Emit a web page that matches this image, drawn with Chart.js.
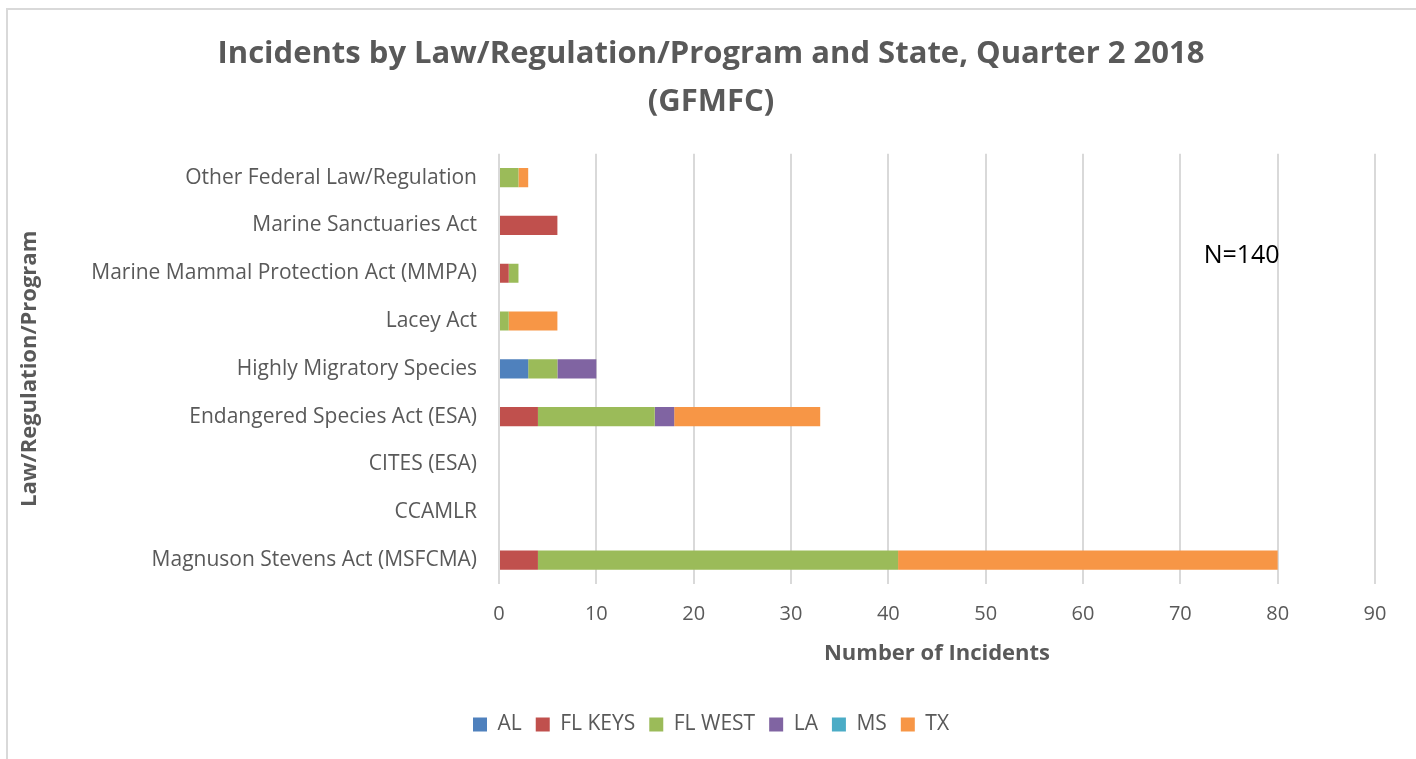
<!DOCTYPE html>
<html>
<head>
<meta charset="utf-8">
<script src="https://cdn.jsdelivr.net/npm/chart.js@4.4.0/dist/chart.umd.min.js"></script>
<style>
  html, body { margin: 0; padding: 0; background: #fff; }
  #wrap { position: relative; width: 1416px; height: 759px; }
  #frame { position: absolute; left: 6px; top: 8px; width: 1420px; height: 760px;
           border-left: 2px solid #d9d9d9; border-top: 2px solid #d9d9d9; }
  canvas { position: absolute; left: 0; top: 0; }
</style>
</head>
<body>
<div id="wrap">
  <div id="frame"></div>
  <canvas id="chart" width="1416" height="759"></canvas>
</div>
<script>
// categories, top to bottom as shown
const categories = [
    'Other Federal Law/Regulation',
    'Marine Sanctuaries Act',
    'Marine Mammal Protection Act (MMPA)',
    'Lacey Act',
    'Highly Migratory Species',
    'Endangered Species Act (ESA)',
    'CITES (ESA)',
    'CCAMLR',
    'Magnuson Stevens Act (MSFCMA)'
];

// incidents per state, same order as categories
const alData      = [0, 0, 0, 0, 3, 0, 0, 0, 0];
const flKeysData  = [0, 6, 1, 0, 0, 4, 0, 0, 4];
const flWestData  = [2, 0, 1, 1, 3, 12, 0, 0, 37];
const laData      = [0, 0, 0, 0, 4, 2, 0, 0, 0];
const msData      = [0, 0, 0, 0, 0, 0, 0, 0, 0];
const txData      = [1, 0, 0, 5, 0, 15, 0, 0, 39];

const xTicks = [0, 10, 20, 30, 40, 50, 60, 70, 80, 90];
const totalLabel = 'N=140';

const FONT = "'Open Sans', 'Liberation Sans', sans-serif";
const GREY = '#595959';
const PAD_LEFT = 47;

function series(label, data, color) {
    return {
        label: label,
        data: data,
        backgroundColor: color,
        borderWidth: 0,
        barPercentage: 0.4,
        categoryPercentage: 1.0
    };
}

// N=140 annotation
const noteLabel = {
    id: 'noteLabel',
    afterDraw(chart) {
        const c = chart.ctx;
        const area = chart.chartArea;
        c.save();
        c.font = '25px ' + FONT;
        c.fillStyle = '#000';
        c.textAlign = 'right';
        c.textBaseline = 'middle';
        c.fillText(totalLabel, chart.scales.x.getPixelForValue(80) + 2, area.top + 102);
        c.restore();
    }
};

const ctx = document.getElementById('chart').getContext('2d');
new Chart(ctx, {
    type: 'bar',
    data: {
        labels: categories,
        datasets: [
            series('AL', alData, '#4f81bd'),
            series('FL KEYS', flKeysData, '#c0504d'),
            series('FL WEST', flWestData, '#9bbb59'),
            series('LA', laData, '#8064a2'),
            series('MS', msData, '#4bacc6'),
            series('TX', txData, '#f79646')
        ]
    },
    options: {
        indexAxis: 'y',
        responsive: false,
        animation: false,
        layout: { padding: { left: PAD_LEFT, right: 41, top: 30, bottom: 14 } },
        plugins: {
            title: {
                display: true,
                text: ['Incidents by Law/Regulation/Program and State, Quarter 2 2018', '(GFMFC)'],
                color: GREY,
                font: { family: FONT, size: 31, weight: 'bold', lineHeight: 1.56 },
                padding: { top: 0, bottom: 27 }
            },
            legend: {
                position: 'bottom',
                labels: {
                    boxWidth: 14,
                    boxHeight: 14,
                    padding: 14,
                    color: GREY,
                    font: { family: FONT, size: 21 }
                }
            },
            tooltip: { enabled: false }
        },
        scales: {
            x: {
                stacked: true,
                min: 0,
                max: 90,
                ticks: {
                    stepSize: 10,
                    color: GREY,
                    padding: 18,
                    font: { family: FONT, size: 20 }
                },
                grid: { color: '#d9d9d9', lineWidth: 2, drawTicks: false },
                border: { display: false },
                title: {
                    display: true,
                    text: 'Number of Incidents',
                    color: GREY,
                    font: { family: FONT, size: 22, weight: 'bold' },
                    padding: { top: 10, bottom: 33 }
                },
                afterFit(scale) { scale.height = 116; }
            },
            y: {
                stacked: true,
                grid: { display: false, drawTicks: false },
                border: { display: false },
                ticks: {
                    color: GREY,
                    padding: 22,
                    font: { family: FONT, size: 21 }
                },
                title: {
                    display: true,
                    text: 'Law/Regulation/Program',
                    color: GREY,
                    font: { family: FONT, size: 22, weight: 'bold' },
                    padding: { top: -30, bottom: 0 }
                },
                afterFit(scale) { scale.width = 499 - PAD_LEFT; }
            }
        }
    },
    plugins: [noteLabel]
});
</script>
</body>
</html>
